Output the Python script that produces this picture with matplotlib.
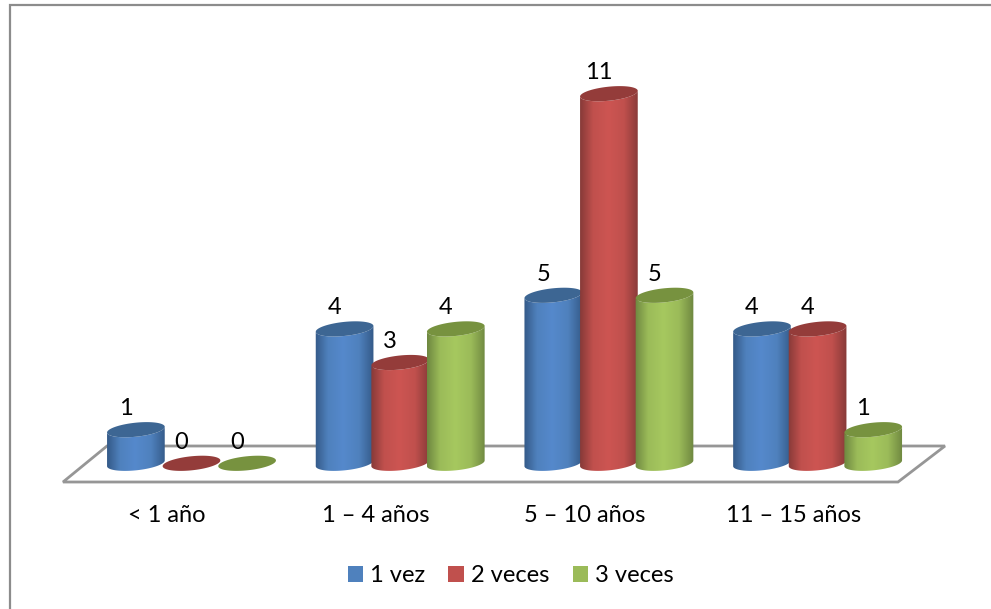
import numpy as np
import matplotlib
matplotlib.use("Agg")
import matplotlib.pyplot as plt
from matplotlib.patches import Polygon, Patch, Rectangle
from matplotlib.colors import LinearSegmentedColormap

categories = ["< 1 año", "1 – 4 años", "5 – 10 años", "11 – 15 años"]
series_names = ["1 vez", "2 veces", "3 veces"]
vez1 = [1, 4, 5, 4]
vez2 = [0, 3, 11, 4]
vez3 = [0, 4, 5, 1]

W, H = 991, 609
PX_X = 208.7      # pixels per category
PX_Y = 33.6       # pixels per unit value
X0, Y0 = 191.5, 463.3
STEP = 55.6 / PX_X
A, B, TILT = 29.0, 7.0, np.radians(6.0)
FS = 17

styles = [
    dict(main="#4f81bd", edge="#345a88", hi="#5589cc", top="#3d6693"),
    dict(main="#c0504d", edge="#873a38", hi="#cd5552", top="#943c3a"),
    dict(main="#9bbb59", edge="#6e8740", hi="#a6c85f", top="#77923f"),
]

plt.rcParams["font.family"] = ["Lato", "DejaVu Sans"]
fig = plt.figure(figsize=(W / 100, H / 100), dpi=100)
ax = fig.add_axes([0, 0, 1, 1])
ax.set_xlim(-X0 / PX_X, (W - X0) / PX_X)
ax.set_ylim((Y0 - H) / PX_Y, Y0 / PX_Y)
ax.axis("off")

fx = lambda p: (p - X0) / PX_X
fy = lambda p: (Y0 - p) / PX_Y

# outer frame
ax.add_patch(Rectangle((fx(9.5), fy(H + 20)), fx(W + 20) - fx(9.5), fy(5) - fy(H + 20),
                       fill=False, ec="#8c8c8c", lw=1.6, zorder=0))
# floor
floor = [(63, 482), (898, 482), (945, 446), (107, 446)]
ax.add_patch(Polygon([(fx(a), fy(b)) for a, b in floor], closed=True, fill=False,
                     ec="#969696", lw=2, joinstyle="miter", zorder=1))


def ell(xc, v, t):
    dx = A * np.cos(t) * np.cos(TILT) - B * np.sin(t) * np.sin(TILT)
    dy = A * np.cos(t) * np.sin(TILT) + B * np.sin(t) * np.cos(TILT)
    return xc + dx / PX_X, v + dy / PX_Y


z = 2
for s, vals in enumerate([vez1, vez2, vez3]):
    st = styles[s]
    cmap = LinearSegmentedColormap.from_list(
        "c", [(0, st["edge"]), (0.22, st["main"]), (0.48, st["hi"]), (0.75, st["main"]), (1, st["edge"])])
    for c, v in enumerate(vals):
        xc = c + (s - 1) * STEP
        if v > 0:
            t1 = np.linspace(np.pi, 2 * np.pi, 50)
            xb, yb = ell(xc, 0, t1)
            xt, yt = ell(xc, v, t1[::-1])
            body = Polygon(np.r_[np.c_[xb, yb], np.c_[xt, yt]], closed=True, fc="none", ec="none",
                           transform=ax.transData)
            ax.add_patch(body)
            im = ax.imshow(np.linspace(0, 1, 128)[None, :], cmap=cmap, aspect="auto", zorder=z,
                           extent=[xc - A / PX_X * 1.01, xc + A / PX_X * 1.01, -1, v + 1],
                           interpolation="bilinear")
            im.set_clip_path(body)
        tt = np.linspace(0, 2 * np.pi, 100)
        xe, ye = ell(xc, v, tt)
        ax.add_patch(Polygon(np.c_[xe, ye], closed=True, fc=st["top"], ec="none", zorder=z + 0.5))
        z += 1
        ax.text(xc - 10 / PX_X, v + 21 / PX_Y, str(v), ha="center", va="center",
                fontsize=FS, color="black", zorder=100)
ax.set_xlim(-X0 / PX_X, (W - X0) / PX_X)
ax.set_ylim((Y0 - H) / PX_Y, Y0 / PX_Y)

for c, name in enumerate(categories):
    ax.text(c - 24.5 / PX_X, fy(515), name, ha="center", va="center", fontsize=FS, color="black")

handles = [Patch(fc=st["main"], ec="none") for st in styles]
ax.legend(handles, series_names, loc="center", bbox_to_anchor=(fx(510.5), fy(576)),
          bbox_transform=ax.transData, ncol=3, frameon=False, fontsize=FS,
          handlelength=0.64, handleheight=0.64, handletextpad=0.3, columnspacing=1.0,
          borderpad=0, borderaxespad=0)

fig.savefig("out.png", dpi=100)
